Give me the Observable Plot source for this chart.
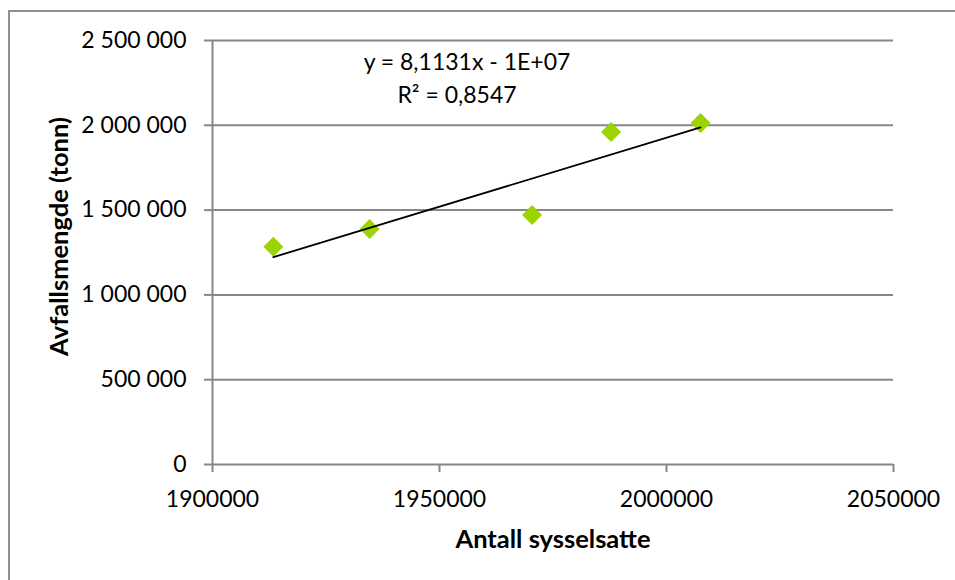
<!DOCTYPE html>
<html>
<head>
<meta charset="utf-8">
<script src="https://cdn.jsdelivr.net/npm/d3@7"></script>
<script src="https://cdn.jsdelivr.net/npm/@observablehq/plot@0.6"></script>
<style>
  html, body { margin: 0; padding: 0; background: #fff; }
  #wrap { position: relative; width: 955px; height: 580px; overflow: hidden; background: #fff; }
  #border { position: absolute; left: 8px; top: 10px; width: 1100px; height: 1100px; border-left: 2px solid #8f8f8f; border-top: 2px solid #8f8f8f; box-sizing: border-box; }
  #chart { position: absolute; left: 0; top: 0; }
</style>
</head>
<body>
<div id="wrap"><div id="border"></div><div id="chart"></div></div>
<script>
// Data
const employed = [1913400, 1934600, 1970400, 1987800, 2007500];   // Antall sysselsatte
const waste    = [1284000, 1389000, 1471600, 1960000, 2013600];   // Avfallsmengde (tonn)
const xTicks = [1900000, 1950000, 2000000, 2050000];
const yTicks = [0, 500000, 1000000, 1500000, 2000000, 2500000];
const xTitle = "Antall sysselsatte";
const yTitle = "Avfallsmengde (tonn)";
const equationText = "y = 8,1131x - 1E+07";
const rSquaredText = "R² = 0,8547";

const data = employed.map((x, i) => ({x, y: waste[i]}));
const fmtY = d => d3.format(",")(d).replace(/,/g, " ");
const grid = "#878787";

const chart = Plot.plot({
  width: 955,
  height: 580,
  marginLeft: 212,
  marginRight: 62,
  marginTop: 40,
  marginBottom: 116,
  style: {fontFamily: "Lato, 'Open Sans', sans-serif", fontSize: "23px", color: "#000", background: "transparent", overflow: "visible"},
  x: {domain: [1900000, 2050000], ticks: xTicks, tickFormat: d => String(d), label: null},
  y: {domain: [0, 2500000], ticks: yTicks, tickFormat: fmtY, label: null},
  marks: [
    Plot.gridY(yTicks, {stroke: grid, strokeOpacity: 1, strokeWidth: 2}),
    Plot.ruleX([1900000], {stroke: grid, strokeWidth: 2}),
    Plot.axisY(yTicks, {tickSize: 8, tickPadding: 18, stroke: grid, strokeWidth: 2, fill: "#000", tickFormat: fmtY, label: null, fontSize: 23}),
    Plot.axisX(xTicks, {tickSize: 8, tickPadding: 18, stroke: grid, strokeWidth: 2, fill: "#000", tickFormat: d => String(d), label: null, fontSize: 23}),
    Plot.dot(data, {x: "x", y: "y", symbol: "diamond2", r: 9, fill: "#9bd400", stroke: "none"}),
    Plot.linearRegressionY(data, {x: "x", y: "y", ci: 0, stroke: "#000", strokeWidth: 1.8}),
    Plot.text([equationText], {frameAnchor: "top", dx: -86, dy: 29, lineAnchor: "bottom", textAnchor: "middle", fontSize: 23, fill: "#000"}),
    Plot.text([rSquaredText], {frameAnchor: "top", dx: -96, dy: 62, lineAnchor: "bottom", textAnchor: "middle", fontSize: 23, fill: "#000"}),
    Plot.text([yTitle], {frameAnchor: "left", rotate: -90, dx: -145, dy: -16, lineAnchor: "bottom", textAnchor: "middle", fontSize: 25.5, fontWeight: "bold", fill: "#000"}),
    Plot.text([xTitle], {frameAnchor: "bottom", dx: 0, dy: 83, lineAnchor: "bottom", textAnchor: "middle", fontSize: 25.5, fontWeight: "bold", fill: "#000"})
  ]
});
document.getElementById("chart").appendChild(chart);
</script>
</body>
</html>
